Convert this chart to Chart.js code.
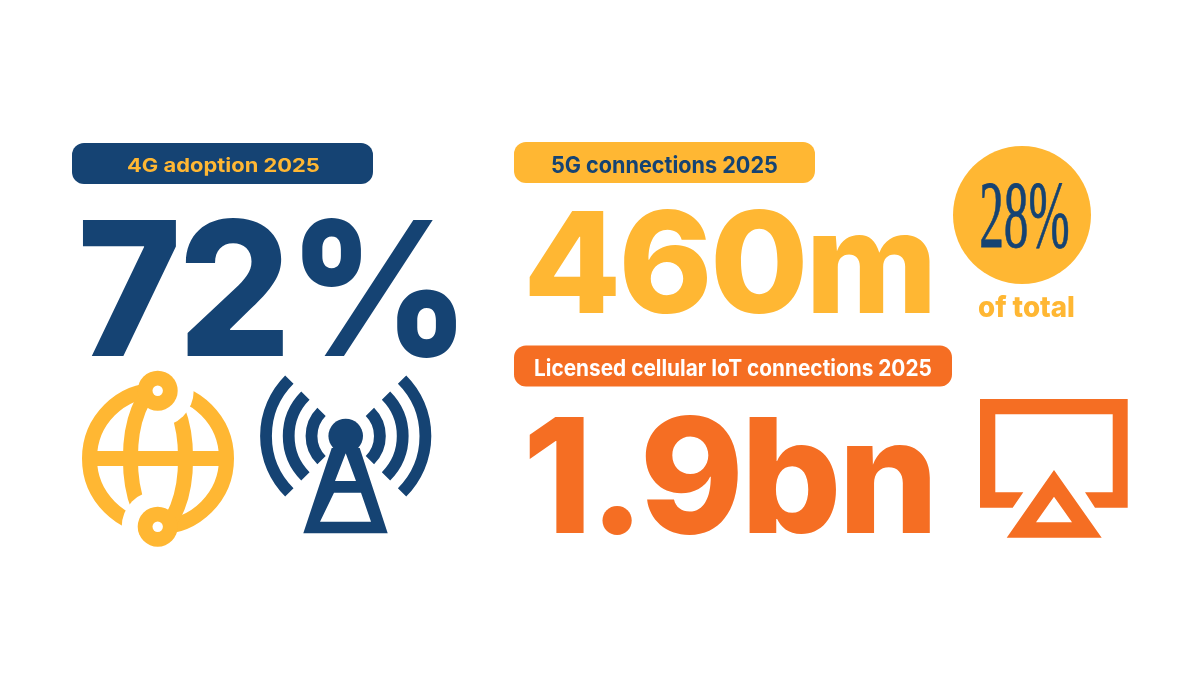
<html>
  <head>
    <title>4G, 5G and IoT 2025</title>
    <meta name="viewport" content="width=device-width, initial-scale=1.0" />
    <script src="https://cdn.jsdelivr.net/npm/chart.js@4/dist/chart.umd.min.js"></script>
    <style>
      body { margin: 0; background: white; }
      canvas { display: block; }
    </style>
  </head>
  <body>
    <canvas id="statsChart" width="1200" height="675"></canvas>
    <script>
      // chart text and values
      const statLabels = ["4G adoption 2025", "5G connections 2025", "Licensed cellular IoT connections 2025"];
      const statValues = ["72%", "460m", "1.9bn"];
      const shareValues = ["28%"];
      const shareCaptions = ["of total"];

      const NAVY = "#154373";
      const YELLOW = "#FFB733";
      const ORANGE = "#F56E23";

      // layout, in page pixels (the hidden axes run 0-1200 and 0-675)
      const pillSpans = [[72, 373], [514, 815], [514, 952]];
      const pillCentres = [163.5, 162.5, 366];
      const pillColours = [NAVY, YELLOW, ORANGE];
      const labelColours = [YELLOW, NAVY, "white"];
      const labelBoxes = [[127, 319, 158, 176], [552, 777, 156, 173], [535, 931, 359, 376]];
      const valueColours = [NAVY, YELLOW, ORANGE];
      const valueBoxes = [[82, 457, 217, 358], [529, 930, 209, 314], [529, 930, 414, 535]];

      // squeeze or stretch a text so its ink fills the box
      function fitText(ctx, text, box, font, colour, spacing, outline) {
        ctx.save();
        ctx.font = font;
        ctx.letterSpacing = spacing || "0px";
        ctx.textAlign = "left";
        ctx.textBaseline = "alphabetic";
        ctx.fillStyle = colour;
        ctx.strokeStyle = colour;
        const m = ctx.measureText(text);
        const sx = (box[1] - box[0]) / (m.actualBoundingBoxLeft + m.actualBoundingBoxRight);
        const sy = (box[3] - box[2]) / (m.actualBoundingBoxAscent + m.actualBoundingBoxDescent);
        ctx.translate(box[0] + m.actualBoundingBoxLeft * sx, box[2] + m.actualBoundingBoxAscent * sy);
        ctx.scale(sx, sy);
        ctx.fillText(text, 0, 0);
        if (outline) {
          ctx.lineWidth = outline;
          ctx.strokeText(text, 0, 0);
        }
        ctx.restore();
      }

      function drawGlobe(ctx) {
        const cx = 158, cy = 458.5;
        ctx.save();
        ctx.strokeStyle = YELLOW;
        ctx.lineWidth = 15;
        ctx.beginPath();
        ctx.arc(cx, cy, 68.5, 0, Math.PI * 2);
        ctx.stroke();
        ctx.beginPath();
        ctx.ellipse(cx, cy, 27.6, 68.5, 0, 0, Math.PI * 2);
        ctx.stroke();
        ctx.beginPath();
        ctx.moveTo(cx - 68, cy);
        ctx.lineTo(cx + 68, cy);
        ctx.stroke();

        // white gaps next to the two nodes, one side only
        ctx.fillStyle = "white";
        ctx.save();
        ctx.beginPath();
        ctx.rect(cx + 6, 340, 80, 110);
        ctx.clip();
        ctx.beginPath();
        ctx.arc(157.7, 390.7, 36, 0, Math.PI * 2);
        ctx.fill();
        ctx.restore();
        ctx.save();
        ctx.beginPath();
        ctx.rect(cx - 86, 467, 80, 110);
        ctx.clip();
        ctx.beginPath();
        ctx.arc(157.7, 526.7, 36, 0, Math.PI * 2);
        ctx.fill();
        ctx.restore();

        [390.7, 526.7].forEach((y) => {
          ctx.fillStyle = YELLOW;
          ctx.beginPath();
          ctx.arc(157.7, y, 20, 0, Math.PI * 2);
          ctx.fill();
          ctx.fillStyle = "white";
          ctx.beginPath();
          ctx.arc(157.7, y, 5.2, 0, Math.PI * 2);
          ctx.fill();
        });
        ctx.restore();
      }

      function drawMast(ctx) {
        const cx = 345.7, cy = 436;
        ctx.save();
        ctx.strokeStyle = NAVY;
        ctx.fillStyle = NAVY;
        ctx.lineWidth = 11.8;
        [34.2, 57, 79.7].forEach((r) => {
          ctx.beginPath();
          ctx.arc(cx, cy, r, -Math.PI / 4, Math.PI / 4);
          ctx.stroke();
          ctx.beginPath();
          ctx.arc(cx, cy, r, Math.PI * 3 / 4, Math.PI * 5 / 4);
          ctx.stroke();
        });
        ctx.beginPath();
        ctx.arc(cx, cy, 17.3, 0, Math.PI * 2);
        ctx.fill();

        ctx.beginPath();
        ctx.moveTo(331.7, 448);
        ctx.lineTo(359.7, 448);
        ctx.lineTo(387.7, 533.3);
        ctx.lineTo(303.3, 533.3);
        ctx.closePath();
        ctx.moveTo(345.7, 453.3);
        ctx.lineTo(356, 481);
        ctx.lineTo(335, 481);
        ctx.closePath();
        ctx.moveTo(334, 492.7);
        ctx.lineTo(361, 492.7);
        ctx.lineTo(371, 521.7);
        ctx.lineTo(320, 521.7);
        ctx.closePath();
        ctx.fill("evenodd");
        ctx.restore();
      }

      function drawScreen(ctx) {
        ctx.save();
        ctx.fillStyle = ORANGE;
        ctx.beginPath();
        ctx.moveTo(980, 399);
        ctx.lineTo(1127.7, 399);
        ctx.lineTo(1127.7, 507.7);
        ctx.lineTo(1095, 507.7);
        ctx.lineTo(1085, 492.3);
        ctx.lineTo(1112.7, 492.3);
        ctx.lineTo(1112.7, 414.3);
        ctx.lineTo(995.3, 414.3);
        ctx.lineTo(995.3, 492.3);
        ctx.lineTo(1023.3, 492.3);
        ctx.lineTo(1012.7, 507.7);
        ctx.lineTo(980, 507.7);
        ctx.closePath();
        ctx.fill();

        ctx.beginPath();
        ctx.moveTo(1054, 470);
        ctx.lineTo(1101.7, 537.7);
        ctx.lineTo(1006.7, 537.7);
        ctx.closePath();
        ctx.moveTo(1054, 496.7);
        ctx.lineTo(1072, 522.3);
        ctx.lineTo(1036, 522.3);
        ctx.closePath();
        ctx.fill("evenodd");
        ctx.restore();
      }

      // writes the numbers and draws the pictograms on top of the chart marks
      const infographicPlugin = {
        id: "infographic",
        afterDatasetsDraw(chart) {
          const ctx = chart.ctx;
          statLabels.forEach((label, i) => {
            fitText(ctx, label, labelBoxes[i], "700 20px Inter", labelColours[i]);
          });
          statValues.forEach((value, i) => {
            fitText(ctx, value, valueBoxes[i], "800 150px Inter", valueColours[i], "-3px");
          });
          fitText(ctx, shareValues[0], [981, 1068, 183, 248], "400 80px 'Liberation Sans Narrow'", NAVY, "0px", 0.7);
          fitText(ctx, shareCaptions[0], [978, 1074, 294, 317], "800 24px Inter", YELLOW);
          drawGlobe(ctx);
          drawMast(ctx);
          drawScreen(ctx);
        },
      };

      new Chart(document.getElementById("statsChart"), {
        type: "bar",
        data: {
          datasets: [
            {
              type: "bar",
              indexAxis: "y",
              data: pillSpans.map((span, i) => ({ x: span, y: pillCentres[i] })),
              backgroundColor: pillColours,
              barThickness: 41,
              borderRadius: 12,
              borderSkipped: false,
              inflateAmount: 0,
            },
            {
              type: "scatter",
              data: [{ x: 1022, y: 215 }],
              backgroundColor: YELLOW,
              borderWidth: 0,
              pointRadius: 69,
            },
          ],
        },
        options: {
          responsive: false,
          animation: false,
          layout: { padding: 0, autoPadding: false },
          plugins: { legend: { display: false }, tooltip: { enabled: false } },
          scales: {
            x: { type: "linear", display: false, offset: false, min: 0, max: 1200 },
            y: { type: "linear", display: false, offset: false, min: 0, max: 675, reverse: true },
          },
        },
        plugins: [infographicPlugin],
      });
    </script>
  </body>
</html>
